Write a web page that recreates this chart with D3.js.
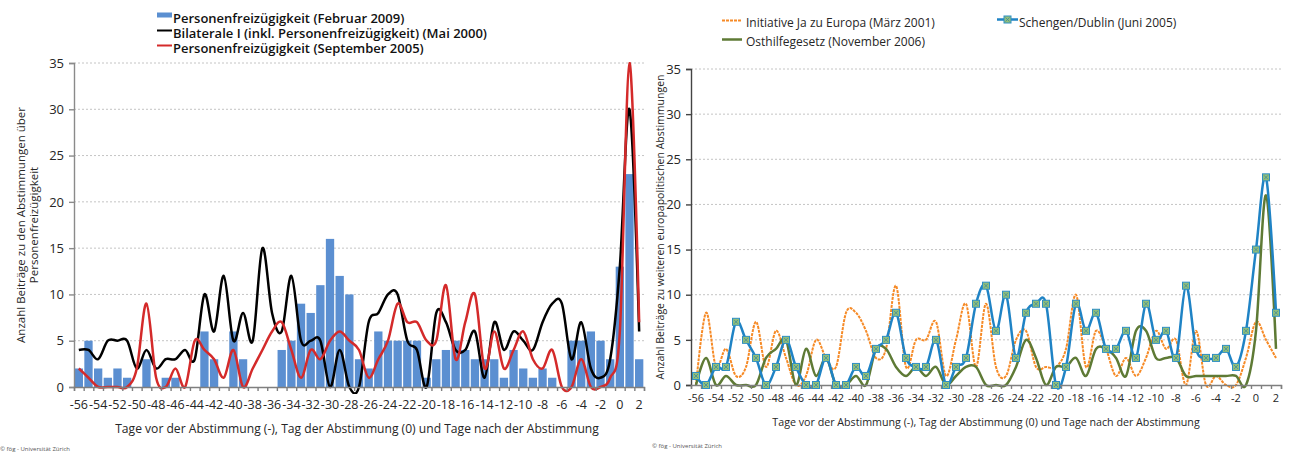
<!DOCTYPE html>
<html lang="de">
<head>
<meta charset="UTF-8">
<title>Medienbeiträge zu Abstimmungen</title>
<script src="https://d3js.org/d3.v7.min.js"></script>
<style>
  body { margin: 0; background: #fff; }
  svg text { font-family: "Open Sans", "DejaVu Sans", sans-serif; fill: #262626; }
</style>
</head>
<body>
<div id="chart"></div>
<script>
// categories: days before (-), on (0) and after the vote
var days = [-56,-55,-54,-53,-52,-51,-50,-49,-48,-47,-46,-45,-44,-43,-42,-41,-40,-39,-38,-37,
            -36,-35,-34,-33,-32,-31,-30,-29,-28,-27,-26,-25,-24,-23,-22,-21,-20,-19,-18,-17,
            -16,-15,-14,-13,-12,-11,-10,-9,-8,-7,-6,-5,-4,-3,-2,-1,0,1,2];
var dayLabels = [-56,-54,-52,-50,-48,-46,-44,-42,-40,-38,-36,-34,-32,-30,-28,-26,-24,-22,-20,
                 -18,-16,-14,-12,-10,-8,-6,-4,-2,0,2];
var yTicks = [0,5,10,15,20,25,30,35];

// left chart
var pfz2009 = [2,5,2,1,2,1,0,3,0,1, 1,0,0,6,3,0,6,3,0,0, 0,4,5,9,8,11,16,12,10,3,
               2,6,5,5,5,5,1,3,4,5, 4,3,3,3,1,4,2,1,2,1, 0,5,5,6,5,3,13,23,3];
var bilaterale2000 = [4,4,3,5,5,5,2,4,2,3, 3,4,3,10,6,12,5,8,5,15, 8,6,12,5,5,5,0,4,0,0,
                      7,8,10,10,5,4,0,8,7,4, 4,6,1,7,4,6,5,4,7,9, 9,3,7,2,1,3,13,30,6];
var pfz2005 = [2,1,0,0,0,0,2,9,1,0, 2,0,5,4,3,1,4,0,2,4, 6,7,4,1,4,3,5,6,5,4,
               1,3,5,9,7,7,5,5,11,3, 7,10,2,6,2,4,6,3,2,4, 0,0,3,0,0,1,6,35,7];

// right chart
var jaEuropa2001 = [0,8,2,4,1,2,7,2,6,3, 0,1,5,3,2,8,8,6,3,4, 11,2,5,5,7,1,5,9,2,9,
                    2,1,5,6,2,2,2,4,10,2, 6,4,1,3,1,3,6,4,5,0, 6,0,1,0,0,3,7,5,3];
var schengen2005 = [1,0,2,2,7,5,3,0,2,5, 2,0,0,3,0,0,2,1,4,5, 8,3,2,2,5,0,2,3,9,11,
                    6,10,3,8,9,9,0,2,9,6, 8,4,4,6,3,9,5,6,3,11, 4,3,3,4,2,6,15,23,8];
var osthilfe2006 = [0,3,0,1,0,0,0,3,4,5, 0,4,1,3,0,0,1,0,4,4, 2,1,2,1,2,0,1,2,2,0,
                    0,0,2,5,3,0,2,2,3,1, 4,4,3,1,6,6,3,3,3,1, 1,1,1,1,1,0,6,21,4];

var xTitle = "Tage vor der Abstimmung (-), Tag der Abstimmung (0) und Tage nach der Abstimmung";
var credit = "\u00a9 f\u00f6g - Universit\u00e4t Z\u00fcrich";

var W = 1292, H = 452;
var svg = d3.select("#chart").append("svg").attr("width", W).attr("height", H);

var curve = d3.curveCardinal.tension(0);

// builds the scaffold of one panel: scales, grid, axes, titles
function panel(opt){
    var g = svg.append("g");
    var x = d3.scaleBand().domain(days).range([opt.x0, opt.x1])
        .paddingInner(0.14).paddingOuter(0.07);
    var y = d3.scaleLinear().domain([0, 35]).range([opt.y0, opt.y1]);
    var edge = d3.scaleLinear().domain([0, days.length]).range([opt.x0, opt.x1]);

    // dotted grid
    g.selectAll(".grid").data(yTicks.slice(1)).enter().append("line")
        .attr("x1", opt.x0).attr("x2", opt.x1)
        .attr("y1", function(d){ return y(d); }).attr("y2", function(d){ return y(d); })
        .attr("stroke", "#c4c4c4").attr("stroke-width", 1)
        .attr("stroke-dasharray", "2,2");

    var clipId = "clip" + opt.id;
    svg.append("clipPath").attr("id", clipId).append("rect")
        .attr("x", opt.x0 - 2).attr("y", opt.y1 - 1)
        .attr("width", opt.x1 - opt.x0 + 6).attr("height", opt.y0 - opt.y1 + 8);

    var plot = g.append("g").attr("clip-path", "url(#" + clipId + ")");

    // y axis
    var ya = g.append("g").attr("transform", "translate(" + opt.x0 + ",0)")
        .call(d3.axisLeft(y).tickValues(yTicks).tickSize(5).tickPadding(5));
    ya.selectAll("text").style("font-size", opt.yTickFont + "px");
    ya.selectAll("line, path").attr("stroke", opt.axisColor).attr("stroke-width", 1.4);

    // x axis with small ticks between the categories
    var xa = g.append("g").attr("transform", "translate(0," + opt.y0 + ")")
        .call(d3.axisBottom(edge).tickValues(d3.range(days.length + 1)).tickFormat("").tickSize(4));
    xa.selectAll("line, path").attr("stroke", "#7f7f7f").attr("stroke-width", 1.4);

    var xl = g.append("g").attr("transform", "translate(0," + opt.y0 + ")")
        .call(d3.axisBottom(x).tickValues(dayLabels).tickSize(0).tickPadding(opt.xTickPad));
    xl.select(".domain").remove();
    xl.selectAll("text").style("font-size", opt.xTickFont + "px");

    g.append("text").attr("x", (opt.x0 + opt.x1) / 2 + opt.titleShift).attr("y", opt.titleY)
        .attr("text-anchor", "middle").style("font-size", opt.titleFont + "px").text(xTitle);

    g.append("text").attr("x", opt.creditX).attr("y", opt.creditY)
        .style("font-size", "6px").style("fill", "#555").text(credit);

    // rotated y title
    var yt = g.append("text").attr("text-anchor", "middle")
        .attr("transform", "translate(" + opt.yTitleX + "," + ((opt.y0 + opt.y1) / 2) + ") rotate(-90)")
        .style("font-size", opt.yTitleFont + "px");
    opt.yTitle.forEach(function(t, i){
        yt.append("tspan").attr("x", 0).attr("dy", i === 0 ? 0 : "1.1em").text(t);
    });

    return { g: g, plot: plot, x: x, y: y };
}

function lineGen(p){
    return d3.line()
        .x(function(d, i){ return p.x(days[i]) + p.x.bandwidth() / 2; })
        .y(function(d){ return p.y(d); })
        .curve(curve);
}

// ---------- left chart ----------
var left = panel({
    id: "L", x0: 74, x1: 644, y0: 387, y1: 63,
    axisColor: "#8a8a8a", yTickFont: 13, xTickFont: 12.5, xTickPad: 13,
    titleFont: 12.1, titleY: 433, titleShift: -2,
    creditX: 0, creditY: 451,
    yTitleX: 25, yTitleFont: 11.5,
    yTitle: ["Anzahl Beitr\u00e4ge zu den Abstimmungen \u00fcber", "Personenfreiz\u00fcgigkeit"]
});

left.plot.selectAll(".bar").data(pfz2009).enter().append("rect")
    .attr("x", function(d, i){ return left.x(days[i]); })
    .attr("width", left.x.bandwidth())
    .attr("y", function(d){ return left.y(d); })
    .attr("height", function(d){ return left.y(0) - left.y(d); })
    .attr("fill", "#5b8fd1");

var lg = lineGen(left);
left.plot.append("path").datum(bilaterale2000).attr("d", lg)
    .attr("fill", "none").attr("stroke", "#000").attr("stroke-width", 2.5);
left.plot.append("path").datum(pfz2005).attr("d", lg)
    .attr("fill", "none").attr("stroke", "#d42a2a").attr("stroke-width", 2.5);

// legend left
var legL = svg.append("g").attr("transform", "translate(157,0)");
legL.append("rect").attr("x", 0).attr("y", 12.5).attr("width", 15).attr("height", 5).attr("fill", "#5b8fd1");
legL.append("line").attr("x1", 0).attr("x2", 15).attr("y1", 30.5).attr("y2", 30.5)
    .attr("stroke", "#000").attr("stroke-width", 2);
legL.append("line").attr("x1", 0).attr("x2", 15).attr("y1", 45.5).attr("y2", 45.5)
    .attr("stroke", "#d42a2a").attr("stroke-width", 2);
[["Personenfreiz\u00fcgigkeit (Februar 2009)", 18],
 ["Bilaterale I (inkl. Personenfreiz\u00fcgigkeit) (Mai 2000)", 33],
 ["Personenfreiz\u00fcgigkeit (September 2005)", 48]].forEach(function(r){
    legL.append("text").attr("x", 16).attr("y", r[1]).attr("dy", "0.35em")
        .style("font-size", "13px").style("font-weight", 600).style("fill", "#111").text(r[0]);
});

// ---------- right chart ----------
var right = panel({
    id: "R", x0: 691, x1: 1281, y0: 385, y1: 69,
    axisColor: "#444", yTickFont: 13, xTickFont: 11, xTickPad: 9,
    titleFont: 10.7, titleY: 426, titleShift: 0,
    creditX: 652, creditY: 448,
    yTitleX: 664, yTitleFont: 10.5,
    yTitle: ["Anzahl Beitr\u00e4ge zu weiteren europapolitischen Abstimmungen"]
});

var rg = lineGen(right);
right.plot.append("path").datum(jaEuropa2001).attr("d", rg)
    .attr("fill", "none").attr("stroke", "#f68a26").attr("stroke-width", 2)
    .attr("stroke-dasharray", "3,1");
right.plot.append("path").datum(osthilfe2006).attr("d", rg)
    .attr("fill", "none").attr("stroke", "#5e7a35").attr("stroke-width", 2.5);
right.plot.append("path").datum(schengen2005).attr("d", rg)
    .attr("fill", "none").attr("stroke", "#1f83c5").attr("stroke-width", 2.5);

function marker(sel){
    sel.append("rect").attr("x", -3.5).attr("y", -3.5).attr("width", 7).attr("height", 7)
        .attr("fill", "#93bf7a").attr("stroke", "#2d8fc4").attr("stroke-width", 1);
    sel.append("path").attr("d", "M-2,-2L2,2M-2,2L2,-2")
        .attr("stroke", "#3b8a9a").attr("stroke-width", 0.8);
}
right.g.selectAll(".mk").data(schengen2005).enter().append("g")
    .attr("transform", function(d, i){
        return "translate(" + (right.x(days[i]) + right.x.bandwidth() / 2) + "," + right.y(d) + ")";
    })
    .call(marker);

// legend right
var legR = svg.append("g");
legR.append("line").attr("x1", 722).attr("x2", 742).attr("y1", 20.5).attr("y2", 20.5)
    .attr("stroke", "#f68a26").attr("stroke-width", 2).attr("stroke-dasharray", "3,1");
legR.append("line").attr("x1", 722).attr("x2", 742).attr("y1", 39.5).attr("y2", 39.5)
    .attr("stroke", "#5e7a35").attr("stroke-width", 2.5);
legR.append("line").attr("x1", 997).attr("x2", 1018).attr("y1", 19.5).attr("y2", 19.5)
    .attr("stroke", "#1f83c5").attr("stroke-width", 2.5);
legR.append("g").attr("transform", "translate(1007.5,19.5)").call(marker);
[["Initiative Ja zu Europa (M\u00e4rz 2001)", 746, 22.5],
 ["Osthilfegesetz (November 2006)", 746, 42],
 ["Schengen/Dublin (Juni 2005)", 1019, 22.5]].forEach(function(r){
    legR.append("text").attr("x", r[1]).attr("y", r[2]).attr("dy", "0.35em")
        .style("font-size", "12px").text(r[0]);
});
</script>
</body>
</html>
